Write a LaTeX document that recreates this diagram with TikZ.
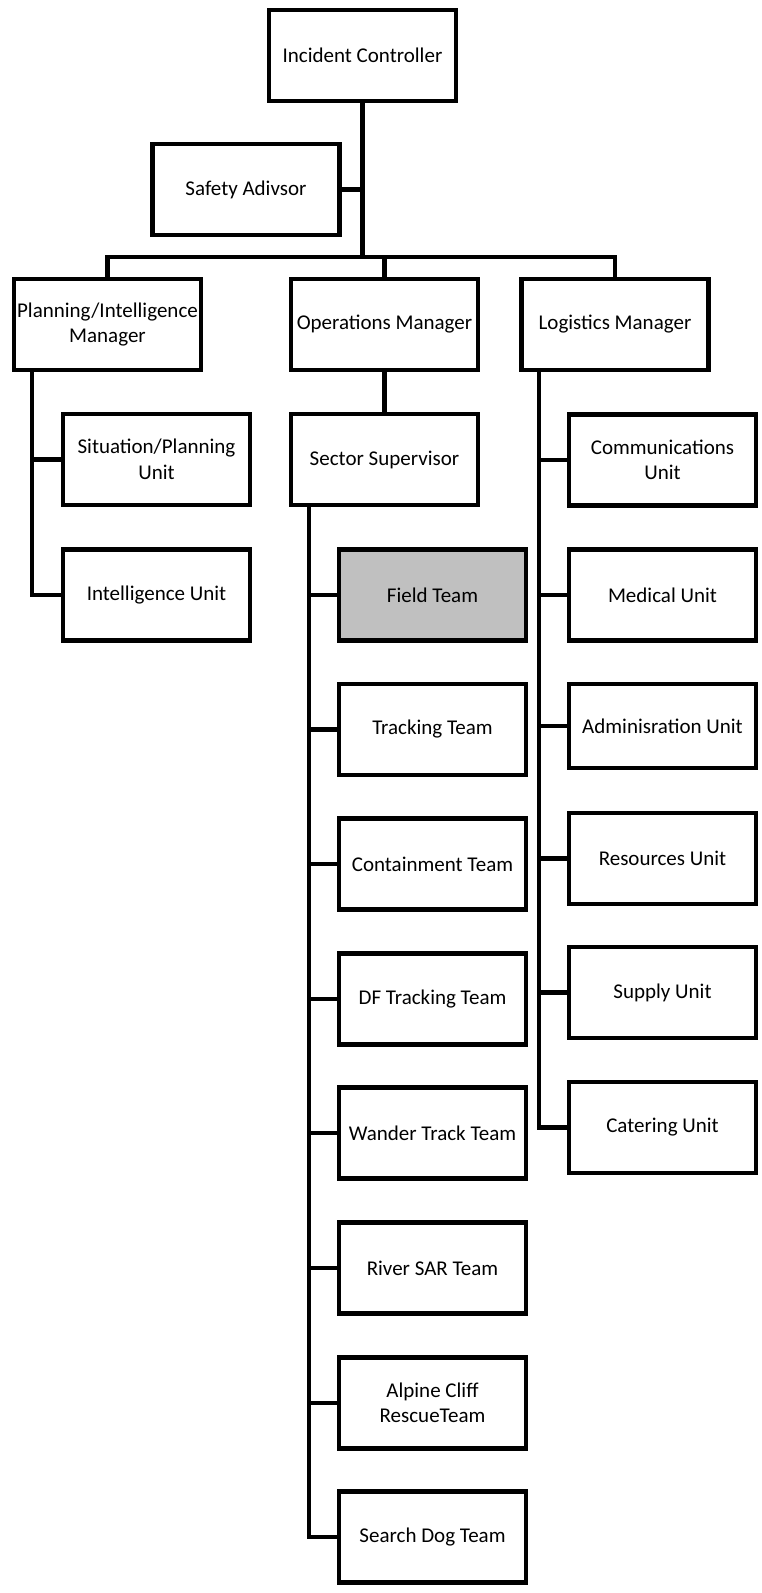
\documentclass[tikz,border=0pt]{standalone}
\usepackage{fontspec}
\setmainfont{Carlito}
\definecolor{fieldgray}{RGB}{192,192,192}
\begin{document}
\begin{tikzpicture}[x=1pt,y=-1pt,
  box/.style={draw=black,line width=4.5pt,fill=white,minimum width=187pt,minimum height=91pt,
    inner sep=0pt,outer sep=0pt,align=center,font=\fontsize{21}{25.5}\selectfont},
  conn/.style={draw=black,line width=4.5pt,line join=miter}]
\useasboundingbox (0,0) rectangle (762,1593);
% top levels
\node[box] (ic) at (362.5,55.5) {Incident Controller};
\node[box] (sa) at (246,189.5) {Safety Adivsor};
\node[box] (pl) at (107.5,324.5) {Planning/Intelligence\\Manager};
\node[box] (op) at (384.5,324.5) {Operations Manager};
\node[box] (lg) at (615,324.5) {Logistics Manager};
% planning column
\node[box] (su) at (156.5,459.5) {Situation/Planning\\Unit};
\node[box] (iu) at (156.5,595) {Intelligence Unit};
% operations column
\node[box] (ss) at (384.5,459.5) {Sector Supervisor};
\node[box,fill=fieldgray] (ft) at (432.5,595) {Field Team};
\node[box] (tt) at (432.5,729.5) {Tracking Team};
\node[box] (ct) at (432.5,864) {Containment Team};
\node[box] (df) at (432.5,999) {DF Tracking Team};
\node[box] (wt) at (432.5,1133) {Wander Track Team};
\node[box] (rs) at (432.5,1268) {River SAR Team};
\node[box] (ac) at (432.5,1403) {Alpine Cliff\\RescueTeam};
\node[box] (sd) at (432.5,1537) {Search Dog Team};
% logistics column
\node[box] (cu) at (662.5,460) {Communications\\Unit};
\node[box] (mu) at (662.5,595) {Medical Unit};
\node[box,minimum height=84pt] (au) at (662.5,726) {Adminisration Unit};
\node[box] (ru) at (662.5,858.5) {Resources Unit};
\node[box] (sp) at (662.5,992.5) {Supply Unit};
\node[box] (ca) at (662.5,1127.5) {Catering Unit};
% connectors
\coordinate (bus) at (362.5,257);
\draw[conn] (ic.south) -- (bus);
\draw[conn] (sa.east) -- (sa.east -| ic.south);
\draw[conn] (pl.north) |- (bus) -| (lg.north);
\draw[conn] (op.north) -- (op.north |- bus);
\draw[conn] (op.south) -- (ss.north);
\coordinate (plt) at (32,0 |- pl.south);
\draw[conn] (plt) |- (iu.west);
\draw[conn] (plt |- su.west) -- (su.west);
\coordinate (sst) at (309,0 |- ss.south);
\draw[conn] (sst) |- (sd.west);
\foreach \n in {ft,tt,ct,df,wt,rs,ac}{\draw[conn] (sst |- \n.west) -- (\n.west);}
\coordinate (lgt) at (539,0 |- lg.south);
\draw[conn] (lgt) |- (ca.west);
\foreach \n in {cu,mu,au,ru,sp}{\draw[conn] (lgt |- \n.west) -- (\n.west);}
\end{tikzpicture}
\end{document}
